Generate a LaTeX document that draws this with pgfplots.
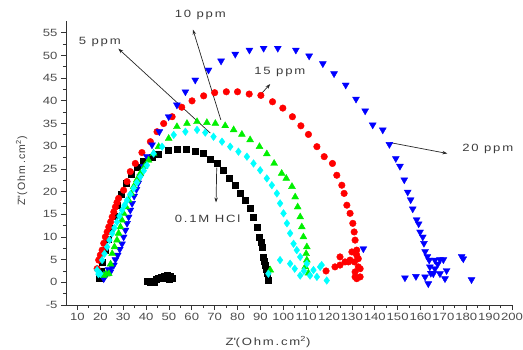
\documentclass[border=0pt]{standalone}
\usepackage{fontspec}
\usepackage{pgfplots}
\pgfplotsset{compat=1.18}
\usetikzlibrary{arrows.meta}
\setmainfont{Liberation Sans}[FakeStretch=1.25]
\newfontfamily\lblfont{Liberation Sans}[FakeStretch=1.25,LetterSpace=17]
\newfontfamily\ylblfont{Liberation Sans}[LetterSpace=12]
\definecolor{tickgray}{RGB}{77,77,77}
\definecolor{txtgray}{RGB}{60,60,60}
\definecolor{cred}{RGB}{255,0,0}
\definecolor{cgreen}{RGB}{0,240,0}
\definecolor{ccyan}{RGB}{0,255,255}
\definecolor{cblue}{RGB}{0,0,255}
\begin{document}
\begin{tikzpicture}
\path[use as bounding box] (-66bp,-45bp) rectangle (457bp,305bp);
\begin{axis}[
  at={(0,0)}, anchor=south west,
  scale only axis, width=446bp, height=284bp,
  xmin=5, xmax=200, ymin=-5, ymax=57.6,
  axis x line*=bottom, axis y line*=left,
  xtick={10,20,...,200}, ytick={-5,0,...,55},
  minor x tick num=1, minor y tick num=1,
  tick align=outside, major tick length=5bp, minor tick length=3bp,
  tick style={black!80, line width=0.8pt},
  axis line style={black!80, line width=0.9pt},
  tick label style={font=\fontsize{10.5bp}{12bp}\selectfont, text=tickgray},
  /pgf/number format/assume math mode=true,
  clip=false,
]
% 0.1M HCl
\addplot[only marks, mark=square*, mark size=3.0bp, black] coordinates {
(19.7,0.8)(20.2,2.5)(21.0,4.5)(22.0,7.0)(23.3,9.5)(24.6,12.0)(26.0,14.5)(27.5,17.0)(29.3,19.5)(31.3,21.8)(33.5,23.8)(36.0,25.4)(38.8,26.6)(42.6,27.6)(45.5,28.3)(49.9,29.2)(53.5,29.4)(57.6,29.3)(61.5,29.0)(64.8,28.4)(68.1,27.1)(71.0,26.2)(73.6,24.7)(76.5,22.9)(79.0,21.4)(81.2,19.6)(83.4,18.1)(85.5,16.3)(87.0,14.4)(88.5,12.2)(89.6,10.0)(90.2,8.9)(90.7,7.8)(91.4,5.6)(91.8,4.7)(92.1,3.8)(92.5,2.8)(92.8,1.9)(93.3,0.4)
(40.5,0.2)(41.8,0.1)(43.0,0.3)(44.3,0.6)(45.5,0.9)(46.7,1.2)(48.0,1.4)(49.3,1.5)(50.5,1.3)(51.5,0.9)(43.5,0.0)(47.5,0.8)(50.0,0.7)
};
% 15 ppm
\addplot[only marks, mark=*, mark size=3.3bp, cred] coordinates {
(18.6,3.0)(19.3,4.9)(20.0,6.0)(20.8,7.1)(21.5,8.6)(22.2,10.0)(23.0,11.1)(23.7,12.2)(24.5,13.3)(25.2,14.4)(25.9,15.5)(26.6,16.6)(27.3,17.6)(28.0,18.5)(30.2,20.3)(31.7,22.2)(33.1,24.4)(35.3,26.2)(38.2,28.6)(41.9,31.0)(44.8,33.2)(47.7,35.0)(51.4,36.5)(55.6,38.6)(60.1,40.0)(65.2,41.1)(70.0,41.8)(75.1,42.0)(80.0,42.0)(85.1,41.5)(90.2,41.2)(95.3,39.8)(99.8,38.4)(104.0,36.5)(107.7,34.5)(111.0,32.6)(114.7,29.9)(117.9,27.7)(121.5,26.2)(123.4,23.6)(125.6,21.4)(126.6,19.6)(127.8,17.0)(129.2,15.2)(130.4,13.0)(131.0,11.1)(131.4,9.3)(132.1,7.1)(130.0,6.7)(132.1,6.0)(132.8,5.2)(131.1,4.5)(128.5,4.5)(127.0,4.5)(124.8,5.6)(124.8,3.8)(122.6,3.4)(129.2,4.9)(132.8,3.4)(133.6,3.0)(131.4,2.3)(132.1,0.8)(131.4,1.2)(133.6,1.2)(118.7,2.5)
};
% 20 ppm
\addplot[only marks, mark=triangle*, mark size=4.0bp, cblue, every mark/.append style={rotate=180}] coordinates {
(21.5,0.8)(22.3,1.5)(23.0,2.0)(23.6,2.8)(24.4,2.3)(25.0,3.5)(25.9,3.8)(26.6,5.0)(27.6,6.0)(28.5,7.3)(29.5,8.5)(30.2,10.0)(31.0,11.5)(31.7,13.0)(32.4,14.4)(33.1,15.9)(33.9,17.4)(34.8,19.0)(35.8,20.5)(36.6,21.9)(37.5,23.3)(38.9,25.5)(40.4,27.7)(42.6,30.3)(45.8,33.2)(49.9,36.5)(53.5,39.1)(57.2,42.0)(61.5,44.6)(67.3,46.8)(72.8,48.8)(79.0,50.3)(85.2,51.2)(91.4,51.6)(97.6,51.6)(105.5,51.2)(111.3,49.9)(117.3,48.2)(122.2,46.0)(127.3,43.5)(131.8,40.4)(135.8,37.8)(139.1,34.7)(143.5,33.6)(146.4,30.4)(149.2,27.3)(151.0,25.6)(152.9,22.6)(154.4,19.9)(155.7,18.2)(156.6,16.2)(158.3,13.8)(159.2,12.9)(159.8,11.1)(161.0,10.0)(161.5,8.6)(162.0,6.8)(163.0,5.7)(163.8,4.9)(166.3,4.9)(168.5,5.0)(170.0,5.0)(171.4,2.6)(170.7,0.8)(168.5,1.9)(165.6,1.9)(163.4,-0.3)(162.0,1.2)(158.0,1.3)(153.2,1.0)(178.0,5.7)(178.7,5.2)(182.3,0.6)(166.3,3.0)(164.1,3.4)(135.0,7.4)(164.5,2.0)(167.5,4.0)
};
% 10 ppm
\addplot[only marks, mark=triangle*, mark size=4.0bp, cgreen] coordinates {
(21.5,1.5)(22.5,1.8)(23.7,1.9)(24.5,4.0)(25.2,6.3)(26.2,7.8)(27.3,9.3)(28.0,10.8)(28.8,12.2)(29.5,13.7)(30.2,15.2)(31.3,16.6)(32.4,18.1)(33.5,19.6)(34.6,21.1)(36.0,22.6)(37.5,24.0)(39.3,25.5)(41.1,26.9)(43.3,28.4)(45.5,29.9)(49.9,31.7)(53.5,34.3)(57.9,35.0)(62.3,35.4)(66.6,35.2)(70.3,35.0)(74.6,34.5)(78.3,33.6)(81.9,32.6)(85.5,31.4)(89.6,29.9)(92.8,28.3)(96.0,26.2)(99.3,24.0)(101.3,22.9)(103.8,21.1)(105.2,18.8)(106.3,16.6)(107.4,14.4)(108.1,12.2)(108.8,10.0)(110.3,7.8)(110.0,6.3)(110.3,4.9)(109.6,3.4)(94.3,2.7)(111.0,2.0)
};
% 5 ppm
\addplot[only marks, mark=diamond*, mark size=3.8bp, ccyan] coordinates {
(18.6,2.7)(19.2,1.8)(20.0,1.9)(20.8,4.9)(21.8,6.3)(23.0,7.8)(24.0,9.3)(25.2,10.8)(26.2,12.0)(27.3,13.3)(28.4,14.6)(29.5,15.9)(30.6,17.0)(31.7,18.1)(33.1,19.4)(34.6,20.7)(36.0,22.0)(37.5,23.3)(39.0,24.6)(40.4,25.8)(43.3,28.4)(47.0,29.9)(52.1,32.5)(57.2,33.2)(62.3,33.6)(65.9,33.0)(69.5,32.1)(73.2,31.0)(76.8,29.9)(80.4,28.8)(84.1,27.7)(87.0,26.2)(89.9,24.7)(92.8,22.9)(95.0,21.4)(97.2,19.6)(98.6,17.4)(100.1,15.2)(101.6,13.0)(103.0,10.8)(104.5,8.5)(105.9,7.1)(107.4,5.6)(110.3,4.1)(113.2,2.7)(116.1,3.4)(119.0,0.4)(114.7,1.2)(98.6,4.9)(103.0,4.1)(107.4,1.5)(111.7,1.5)(93.5,1.9)(116.8,3.8)(105.0,3.0)(109.0,2.5)
};
% annotations
\begin{scope}[line width=0.7bp, black!85, -{Stealth[length=5bp,width=3.5bp]}]
\draw (axis cs:68.1,32.9) -- (axis cs:27.9,51.5);
\draw (axis cs:72.7,35.8) -- (axis cs:60.5,55.7);
\draw (axis cs:89.9,41.3) -- (axis cs:94.3,43.7);
\draw (axis cs:146.7,30.8) -- (axis cs:171.7,28.4);
\draw (axis cs:70.9,25.3) -- (axis cs:70.6,17.6);
\end{scope}
\begin{scope}[every node/.style={font=\lblfont\fontsize{10.5bp}{12bp}\selectfont, text=txtgray, inner sep=0pt}]
\node at (axis cs:19.8,52.9) {5 ppm};
\node at (axis cs:63.7,59.0) {10 ppm};
\node at (axis cs:98.5,46.3) {15 ppm};
\node at (axis cs:189.4,29.4) {20 ppm};
\node at (axis cs:66.9,14.1) {0.1M HCl};
\node at (rel axis cs:0.453,0) [yshift=-37bp] {Z\textquotesingle(Ohm.cm\textsuperscript{2})};
\end{scope}
\node[xshift=-44.3bp, rotate=90, font=\ylblfont\fontsize{10.5bp}{12bp}\selectfont, text=txtgray, inner sep=0pt] at (rel axis cs:0,0.472) {Z\textquotedbl(Ohm.cm\textsuperscript{2})};
\end{axis}
\end{tikzpicture}
\end{document}
